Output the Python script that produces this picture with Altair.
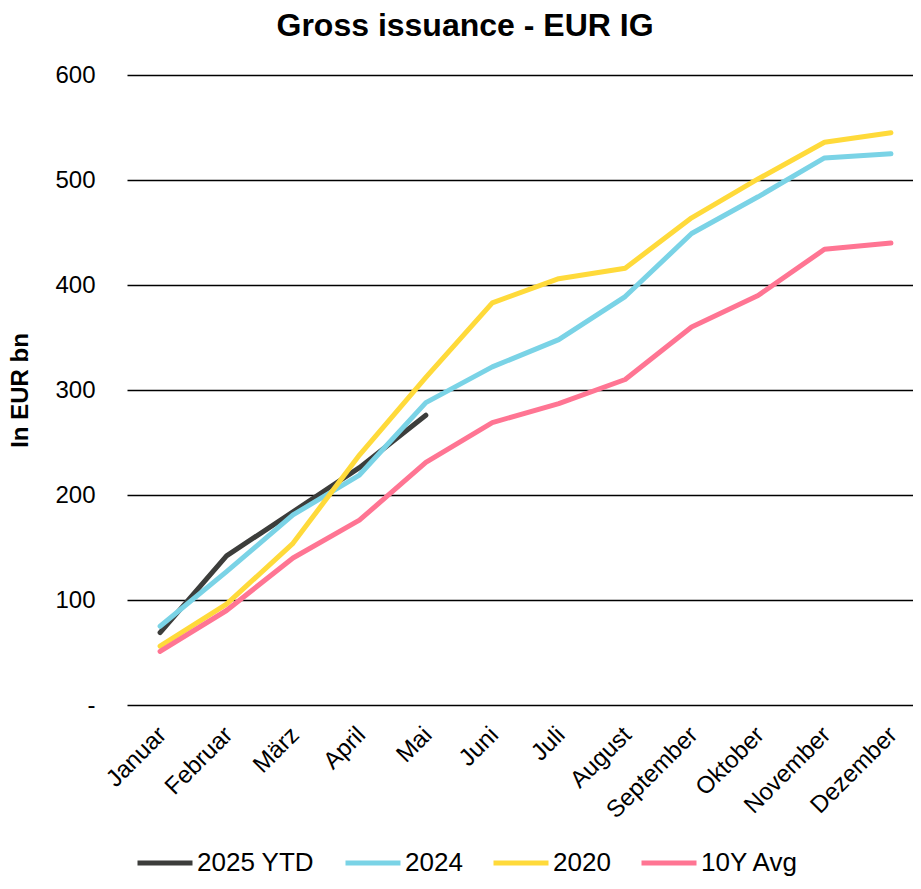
import altair as alt
import pandas as pd

months = ["Januar", "Februar", "März", "April", "Mai", "Juni", "Juli",
          "August", "September", "Oktober", "November", "Dezember"]
series_names = ["2025 YTD", "2024", "2020", "10Y Avg"]
colors = ["#3c3d3b", "#7ad3e6", "#ffda3a", "#ff7593"]

ytd_2025 = [69, 142, 184, 226, 276]
y2024 = [75, 127, 181, 219, 288, 322, 348, 389, 449, 484, 521, 525]
y2020 = [56, 96, 154, 238, 312, 383, 406, 416, 464, 501, 536, 545]
avg10 = [51, 90, 140, 176, 231, 269, 287, 310, 360, 390, 434, 440]

rows = []
for name, vals in zip(series_names, [ytd_2025, y2024, y2020, avg10]):
    for i, v in enumerate(vals):
        rows.append({"Monat": months[i], "Wert": v, "Serie": name,
                     "ord": series_names.index(name)})
df = pd.DataFrame(rows)

FONT = "Liberation Sans"

chart = alt.Chart(df).mark_line(strokeWidth=5, strokeCap="round", strokeJoin="round").encode(
    x=alt.X("Monat:N", sort=months,
            scale=alt.Scale(type="point", padding=0.415, align=0.6),
            axis=alt.Axis(title=None, labelAngle=-45, labelAlign="right",
                          labelBaseline="middle", labelFontSize=24, labelFont=FONT,
                          labelColor="#000000", labelPadding=26, labelOffset=2,
                          ticks=False, domain=False, grid=False)),
    y=alt.Y("Wert:Q",
            scale=alt.Scale(domain=[0, 600], nice=False, zero=True),
            axis=alt.Axis(title="In EUR bn", titleFont=FONT, titleFontSize=24,
                          titleFontWeight="bold", titleColor="#000000",
                          titlePadding=22,
                          values=[0, 100, 200, 300, 400, 500, 600],
                          labelExpr="datum.value == 0 ? '-\u00a0\u00a0' : datum.label",
                          labelFontSize=24, labelFont=FONT, labelColor="#000000",
                          labelPadding=32, ticks=False, domain=False,
                          grid=True, gridColor="#000000", gridWidth=1.5)),
    color=alt.Color("Serie:N",
                    scale=alt.Scale(domain=series_names, range=colors),
                    legend=alt.Legend(title=None, orient="none", direction="horizontal",
                                      legendX=8, legendY=758,
                                      symbolType="stroke", symbolSize=3025,
                                      symbolStrokeWidth=5, labelFontSize=26,
                                      labelFont=FONT, labelColor="#000000",
                                      labelOffset=2, columnPadding=20)),
    order=alt.Order("ord:Q"),
    detail="Serie:N",
).properties(
    width=786, height=630,
    title=alt.TitleParams("Gross issuance - EUR IG", font=FONT, fontSize=32,
                          fontWeight="bold", color="#000000", anchor="middle",
                          dx=-55, offset=20),
    autosize=alt.AutoSizeParams(type="none"),
    padding={"left": 119, "top": 67, "right": 0, "bottom": 175},
).configure_view(stroke=None)

chart.save("out.html", embed_options={"renderer": "svg", "actions": False})
